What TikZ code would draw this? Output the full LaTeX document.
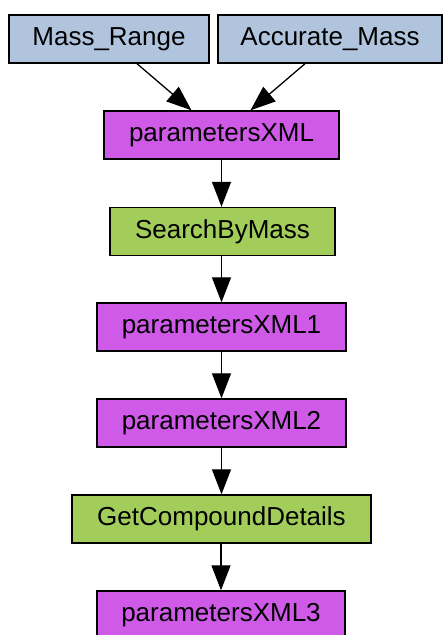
\documentclass[tikz,border=0pt]{standalone}
\usepackage{fontspec}
\setmainfont{Liberation Sans}
\usetikzlibrary{arrows.meta}
\definecolor{inblue}{HTML}{B0C4DE}
\definecolor{xmlpink}{HTML}{D05AE8}
\definecolor{procgreen}{HTML}{A2CD5A}
\tikzset{
  box/.style={draw=black, line width=1.4pt, minimum height=48pt, inner sep=0pt,
    font=\fontsize{26}{29}\selectfont},
  inbox/.style={box, fill=inblue},
  xmlbox/.style={box, fill=xmlpink},
  procbox/.style={box, fill=procgreen},
  link/.style={line width=1.3pt, -{Triangle[length=25pt,width=19pt]}},
}
\begin{document}
\begin{tikzpicture}[x=1pt,y=-1pt]
\useasboundingbox (0,0) rectangle (444,635);
\node[inbox, minimum width=200pt] (mr) at (109,39) {Mass\_Range};
\node[inbox, minimum width=224pt] (am) at (330,39) {Accurate\_Mass};
\node[xmlbox, minimum width=235pt] (px) at (221.5,135) {parametersXML};
\node[procbox, minimum width=225pt] (sbm) at (222.5,231.5) {SearchByMass};
\node[xmlbox, minimum width=249pt] (px1) at (221.5,327) {parametersXML1};
\node[xmlbox, minimum width=249pt] (px2) at (221.5,423) {parametersXML2};
\node[procbox, minimum width=299pt] (gcd) at (221.5,519) {GetCompoundDetails};
\node[xmlbox, minimum width=248pt] (px3) at (221,615) {parametersXML3};
\draw[link] ([xshift=28pt]mr.south) -- ([xshift=-30pt]px.north);
\draw[link] ([xshift=-25pt]am.south) -- ([xshift=29pt]px.north);
\draw[link] (px.south) -- (px.south |- sbm.north);
\draw[link] (sbm.south -| px1.north) -- (px1.north);
\draw[link] (px1) -- (px2);
\draw[link] (px2.south) -- (px2.south |- gcd.north);
\draw[link] (gcd.south -| px3.north) -- (px3.north);
\end{tikzpicture}
\end{document}
